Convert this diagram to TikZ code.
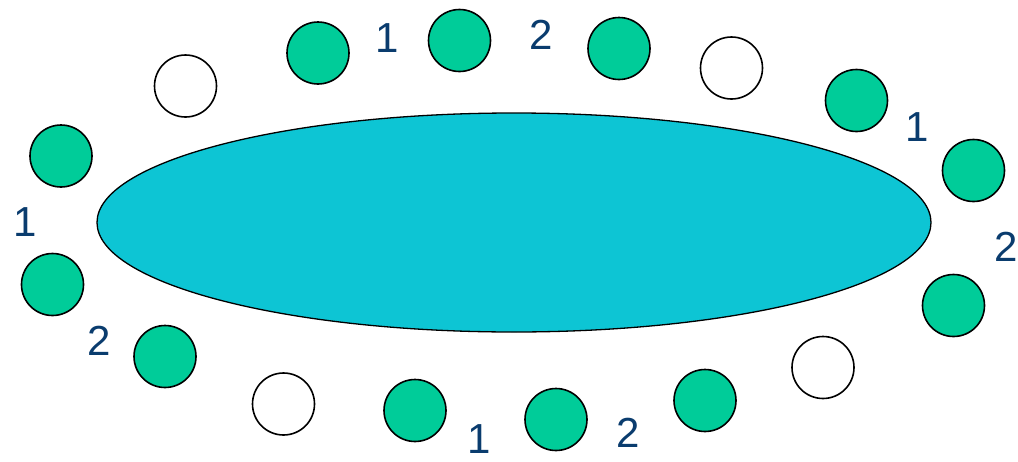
\documentclass[tikz,border=0pt]{standalone}
\usepackage{fontspec}
\setmainfont{Liberation Sans}
\usetikzlibrary{shapes.geometric}
\definecolor{pool}{RGB}{13,197,212}
\definecolor{seat}{RGB}{0,204,153}
\definecolor{lbl}{RGB}{10,60,110}
\begin{document}
\begin{tikzpicture}[x=1pt,y=-1pt,
  table/.style={ellipse,draw=black,line width=1.3pt,fill=pool,minimum width=834pt,minimum height=219pt,inner sep=0pt},
  gseat/.style={circle,draw=black,line width=1.6pt,fill=seat,minimum size=62pt,inner sep=0pt},
  wseat/.style={circle,draw=black,line width=1.6pt,fill=white,minimum size=62pt,inner sep=0pt},
  num/.style={text=lbl,font=\fontsize{42}{42}\selectfont,inner sep=0pt}]
\useasboundingbox (0,0) rectangle (1018,461);
\node[table] (T) at (514,222.5) {};
% seats
\node[gseat] (s1) at (318,53) {};
\node[gseat] (s2) at (459.5,40.5) {};
\node[gseat] (s3) at (619,48.5) {};
\node[wseat] (s4) at (731.5,68) {};
\node[wseat] (s5) at (185.5,86) {};
\node[gseat] (s6) at (856.5,100.5) {};
\node[gseat] (s7) at (61,156) {};
\node[gseat] (s8) at (973.5,170.5) {};
\node[gseat] (s9) at (52.5,284.5) {};
\node[gseat] (s10) at (953.5,305.5) {};
\node[gseat] (s11) at (165,356.5) {};
\node[wseat] (s12) at (823,367.5) {};
\node[wseat] (s13) at (283.5,404) {};
\node[gseat] (s14) at (415,410.5) {};
\node[gseat] (s15) at (556,419.5) {};
\node[gseat] (s16) at (705,400.5) {};
% labels
\node[num] (n1) at (387,38) {1};
\node[num] (n2) at (541.5,35) {2};
\node[num] (n3) at (917,127) {1};
\node[num] (n4) at (25,222) {1};
\node[num] (n5) at (1006,247) {2};
\node[num] (n6) at (99.5,340.5) {2};
\node[num] (n7) at (479,439) {1};
\node[num] (n8) at (628,432.5) {2};
\end{tikzpicture}
\end{document}
